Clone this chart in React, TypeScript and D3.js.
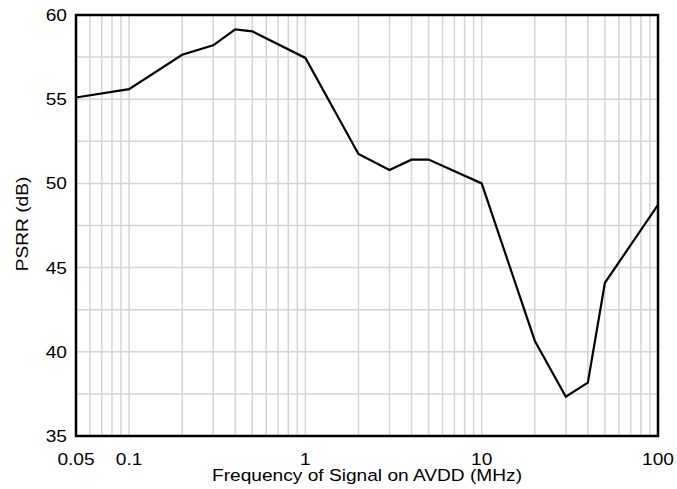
import React from "react";
import * as d3 from "d3";

const freqs = [0.05, 0.1, 0.2, 0.3, 0.4, 0.5, 1, 2, 3, 4, 5, 10, 20, 30, 40, 50, 100];
const psrr = [55.1, 55.6, 57.64, 58.2, 59.15, 59.03, 57.45, 51.75, 50.8, 51.41, 51.42, 50.0, 40.66, 37.33, 38.17, 44.1, 48.72];
const xTicks = [0.05, 0.1, 1, 10, 100];
const yTicks = [35, 40, 45, 50, 55, 60];
const xLabel = "Frequency of Signal on AVDD (MHz)";
const yLabel = "PSRR (dB)";

const font = "Arial, 'Liberation Sans', sans-serif";
const SX = 1.16;
const FS = 16.5;

function T(props: { x: number; y: number; anchor: string; rotate?: number; dy?: string; children: any }) {
  const { x, y, anchor, rotate, dy, children } = props;
  return (
    <g transform={`translate(${x},${y})${rotate ? ` rotate(${rotate})` : ""} scale(${SX},1)`}>
      <text x={0} y={0} dy={dy} textAnchor={anchor} fontFamily={font} fontSize={FS} fill="#000">
        {children}
      </text>
    </g>
  );
}

export default function App() {
  const W = 677, H = 489;
  const L = 76, R = 658, Tp = 15, B = 436;
  const x = d3.scaleLog().domain([0.05, 100]).range([L, R]);
  const y = d3.scaleLinear().domain([35, 60]).range([B, Tp]);

  const minor: number[] = [];
  for (const dec of [0.01, 0.1, 1, 10]) {
    for (let k = 1; k <= 9; k++) {
      const v = +(dec * k).toPrecision(3);
      if (v > 0.05 && v < 100) minor.push(v);
    }
  }
  const hGrid = d3.range(35, 60.01, 2.5).filter((v) => v > 35 && v < 60);

  const line = d3.line<number>().x((_, i) => x(freqs[i])).y((d) => y(d));

  return (
    <svg width={W} height={H} style={{ position: "absolute", left: 0, top: 0 }}>
      <rect x={0} y={0} width={W} height={H} fill="#fff" />
      {minor.map((v) => (
        <line key={"v" + v} x1={x(v)} x2={x(v)} y1={Tp} y2={B} stroke="#d4d4d4" strokeWidth={1.5} />
      ))}
      {hGrid.map((v) => (
        <line key={"h" + v} x1={L} x2={R} y1={y(v)} y2={y(v)} stroke="#d4d4d4" strokeWidth={1.5} />
      ))}
      <path d={line(psrr) || ""} fill="none" stroke="#000" strokeWidth={2.2} strokeLinejoin="miter" />
      <rect x={L} y={Tp} width={R - L} height={B - Tp} fill="none" stroke="#000" strokeWidth={2.5} />
      {yTicks.map((v) => (
        <T key={"yt" + v} x={L - 9} y={y(v)} dy="0.36em" anchor="end">
          {v}
        </T>
      ))}
      {xTicks.map((v) => (
        <T key={"xt" + v} x={x(v)} y={465} anchor="middle">
          {v}
        </T>
      ))}
      <T x={(L + R) / 2} y={481} anchor="middle">
        {xLabel}
      </T>
      <g transform={`translate(27.5,224) rotate(-90) scale(${SX},1)`}>
        <text x={0} y={0} textAnchor="middle" fontFamily={font} fontSize={FS} fill="#000">
          {yLabel}
        </text>
      </g>
    </svg>
  );
}
